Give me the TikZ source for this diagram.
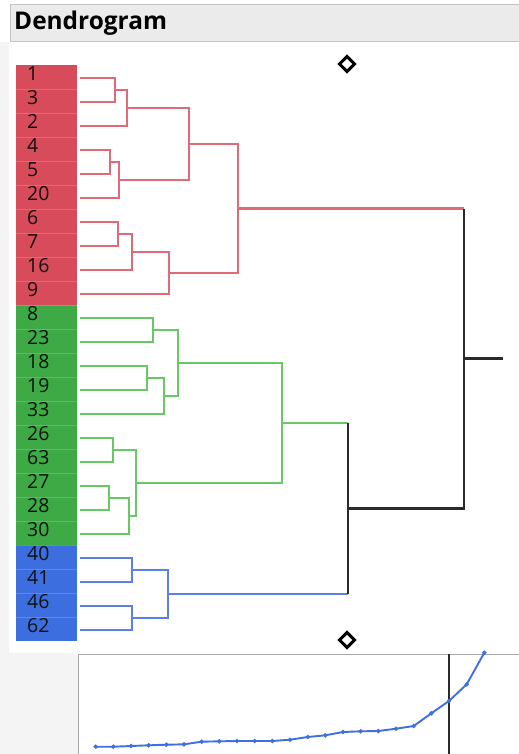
\documentclass[tikz,border=0pt]{standalone}
\usepackage{fontspec}
\setmainfont{Open Sans}
\definecolor{bgg}{HTML}{F4F4F4}
\definecolor{hdrfill}{HTML}{EBEBEB}
\definecolor{hdrline}{HTML}{C4C4C4}
\definecolor{redfill}{HTML}{D74B5B}
\definecolor{greenfill}{HTML}{3DAA46}
\definecolor{bluefill}{HTML}{3C6EDF}
\definecolor{redln}{HTML}{E06A78}
\definecolor{greenln}{HTML}{66C866}
\definecolor{blueln}{HTML}{5C80E8}
\definecolor{labtxt}{HTML}{111111}
\definecolor{plotln}{HTML}{3F6FE0}
\definecolor{boxln}{HTML}{A8A8A8}
\definecolor{blackln}{HTML}{2A2A2A}
\tikzset{
  redlink/.style={draw=redln, line width=2.3bp},
  greenlink/.style={draw=greenln, line width=2.3bp},
  bluelink/.style={draw=blueln, line width=2.3bp},
  blacklink/.style={draw=blackln, line width=2.3bp},
  leaflab/.style={anchor=base west, inner sep=0pt, text=labtxt, font=\fontsize{19.5}{19.5}\selectfont},
  markerdia/.style={draw=black, line width=3bp, line join=miter},
  sepline/.style={draw=white, opacity=0.18, line width=0.8bp}
}
\begin{document}
\begin{tikzpicture}[x=1bp,y=-1bp]
\useasboundingbox (0,0) rectangle (519,754);
\fill[white] (0,0) rectangle (519,754);
\fill[bgg] (0,42) rectangle (9,754);
\fill[bgg] (0,653) rectangle (78,754);
% header
\filldraw[fill=hdrfill, draw=hdrline, line width=1bp] (10,5) rectangle (530,42);
\node[anchor=base west, inner sep=0pt, font=\bfseries\fontsize{24.5}{24.5}\selectfont, text=black] (title) at (14,30) {Dendrogram};
% label column
\foreach \lab [count=\i from 0] in {1,3,2,4,5,20,6,7,16,9,8,23,18,19,33,26,63,27,28,30,40,41,46,62} {
  \pgfmathtruncatemacro{\grp}{\i<10 ? 0 : (\i<20 ? 1 : 2)}
  \ifcase\grp \def\cellcol{redfill}\or \def\cellcol{greenfill}\or \def\cellcol{bluefill}\fi
  \fill[\cellcol] (16,65+24*\i) rectangle (77,89+24*\i);
  \node[leaflab] (lab\i) at (27,80+24*\i) {\lab};
  \coordinate (L\i) at (80,78+24*\i);
}
\foreach \i in {1,...,23} {
  \draw[sepline] (16,65+24*\i) -- (77,65+24*\i);
}
% merge points
\coordinate (r1) at (115,90);
\coordinate (r2) at (127,108);
\coordinate (r3) at (110,162);
\coordinate (r4) at (119,180);
\coordinate (r5) at (189,144);
\coordinate (r6) at (118,234);
\coordinate (r7) at (132,252);
\coordinate (r8) at (169,273);
\coordinate (r9) at (238,208.5);
\coordinate (g1) at (153,330);
\coordinate (g2) at (147,378);
\coordinate (g3) at (164,396);
\coordinate (g4) at (178,363);
\coordinate (g5) at (113,450);
\coordinate (g6) at (109,498);
\coordinate (g7) at (129,516);
\coordinate (g8) at (136,483);
\coordinate (g9) at (282,423);
\coordinate (b1) at (132,570);
\coordinate (b2) at (132,618);
\coordinate (b3) at (168,594);
\coordinate (k1) at (348,508.5);
\coordinate (k2) at (464,358.5);
\coordinate (rootend) at (503,358.5);
% red cluster
\draw[redlink] (L0) -| (r1) |- (L1);
\draw[redlink] (r1) -| (r2) |- (L2);
\draw[redlink] (L3) -| (r3) |- (L4);
\draw[redlink] (r3) -| (r4) |- (L5);
\draw[redlink] (r2) -| (r5) |- (r4);
\draw[redlink] (L6) -| (r6) |- (L7);
\draw[redlink] (r6) -| (r7) |- (L8);
\draw[redlink] (r7) -| (r8) |- (L9);
\draw[redlink] (r5) -| (r9) |- (r8);
% green cluster
\draw[greenlink] (L10) -| (g1) |- (L11);
\draw[greenlink] (L12) -| (g2) |- (L13);
\draw[greenlink] (g2) -| (g3) |- (L14);
\draw[greenlink] (g1) -| (g4) |- (g3);
\draw[greenlink] (L15) -| (g5) |- (L16);
\draw[greenlink] (L17) -| (g6) |- (L18);
\draw[greenlink] (g6) -| (g7) |- (L19);
\draw[greenlink] (g5) -| (g8) |- (g7);
\draw[greenlink] (g4) -| (g9) |- (g8);
% blue cluster
\draw[bluelink] (L20) -| (b1) |- (L21);
\draw[bluelink] (L22) -| (b2) |- (L23);
\draw[bluelink] (b1) -| (b3) |- (b2);
% joins between clusters
\draw[greenlink] (g9) -- (g9 -| k1);
\draw[bluelink] (b3) -- (b3 -| k1);
\draw[blacklink] (g9 -| k1) -- (b3 -| k1);
\draw[redlink] (r9) -- (r9 -| k2);
\draw[blacklink] (r9 -| k2) -- (k1 -| k2) -- (k1);
\draw[blacklink] (k2) -- (rootend);
% diamonds
\draw[markerdia] (347,56.5) -- (354.5,64) -- (347,71.5) -- (339.5,64) -- cycle;
\draw[markerdia] (347,632.5) -- (354.5,640) -- (347,647.5) -- (339.5,640) -- cycle;
% bottom plot
\fill[white] (78.5,654.3) rectangle (530,760);
\draw[boxln, line width=1.5bp] (78.5,760) -- (78.5,654.3) -- (530,654.3);
\draw[blackln, line width=2.2bp] (449,654.3) -- (449,760);
\draw[plotln, line width=1.9bp, mark=*, mark size=1.1bp, mark options={fill=plotln, draw=plotln}]
  plot coordinates {(95.7,746.7) (113.3,746.7) (131,746) (148.7,745.3) (166.3,744.7) (184,744.3) (201.7,741.7) (219.3,741.3) (237,741) (254.7,741) (272.3,741) (290,739.7) (307.7,737) (325.3,735.3) (343,732) (360.7,731.3) (378.3,731) (396,728.7) (413.7,726) (431.3,713.3) (449,701) (466.7,684.3) (484.3,652.7)};
\end{tikzpicture}
\end{document}
